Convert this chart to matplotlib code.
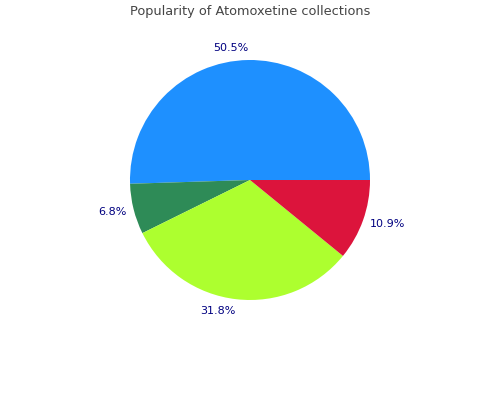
import matplotlib
matplotlib.use("Agg")
import matplotlib.pyplot as plt

labels = ["50.5%", "6.8%", "31.8%", "10.9%"]
values = [50.5, 6.8, 31.8, 10.9]
colors = ["#1E90FF", "#2E8B57", "#ADFF2F", "#DC143C"]
title = "Popularity of Atomoxetine collections"

fig = plt.figure(figsize=(5, 4), dpi=100)
ax = fig.add_axes([0.26, 0.25, 0.48, 0.6])
wedges, texts = ax.pie(values, labels=labels, colors=colors, startangle=0,
                       counterclock=True, radius=1.0, labeldistance=1.1,
                       textprops=dict(color="#000080", fontsize=8))
for t in texts:
    x, y = t.get_position()
    t.set_position((x * 0.965, y))
ax.set_xlim(-1, 1)
ax.set_ylim(-1, 1)
ax.set_aspect("equal")
fig.text(0.5, 0.97, title, ha="center", va="center", fontsize=9.3, color="#444444")
fig.savefig("out.png", dpi=100)
